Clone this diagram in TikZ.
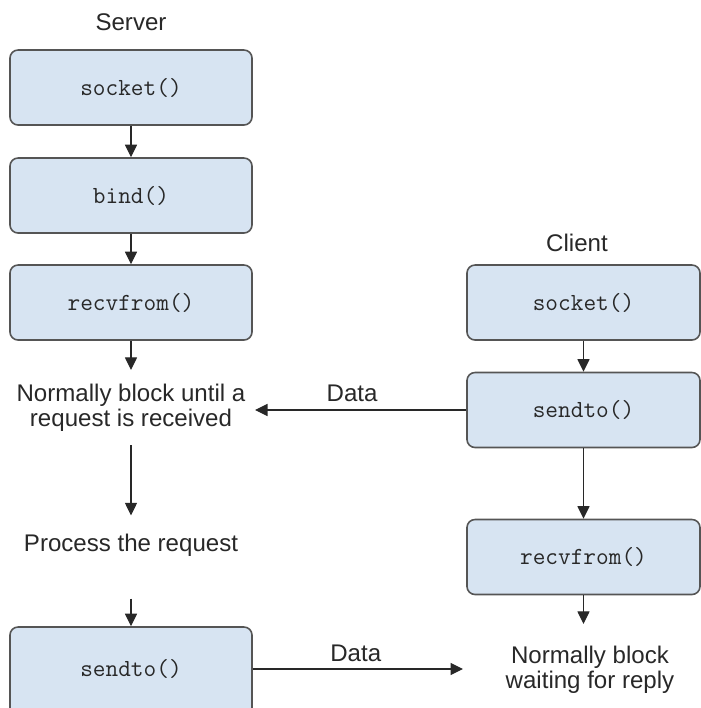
\documentclass[tikz,border=0pt]{standalone}
\usepackage{fontspec}
\setmainfont{Liberation Sans}
\usepackage{xcolor}
\usepackage{tikz}
\usetikzlibrary{arrows.meta, positioning, calc}
\definecolor{sockblue}{RGB}{215,228,242}
\definecolor{sockgray}{RGB}{85,85,85}
\definecolor{socktext}{RGB}{40,40,40}
\tikzset{
  callbox/.style={draw=sockgray, line width=0.9pt, fill=sockblue, rounded corners=0.16cm,
    minimum width=4.84cm, minimum height=1.5cm, text=socktext,
    font=\fontsize{14}{16}\selectfont\ttfamily},
  steptext/.style={align=center, inner sep=0pt, text=socktext,
    font=\fontsize{13.7}{14.2}\selectfont},
  flow/.style={-{Triangle[length=0.25cm,width=0.24cm]}, line width=0.6pt, draw=socktext},
}

\begin{document}
\begin{tikzpicture}
\clip (0,0) rectangle (14.02,-14.16);
% Server side
\node[steptext] (srvlbl) at (2.62,-0.44) {Server};
\node[callbox] (ssock) at (2.62,-1.75) {socket()};
\node[callbox] (sbind) at (2.62,-3.91) {bind()};
\node[callbox] (srecv) at (2.62,-6.05) {recvfrom()};
\node[steptext] (swait) at (2.62,-8.16) {Normally block until a\\request is received};
\node[steptext] (sproc) at (2.62,-10.9) {Process the request};
\node[callbox, minimum height=1.8cm] (ssend) at (2.62,-13.44) {\raisebox{0.16cm}{sendto()}};
\draw[flow] (ssock) -- (sbind);
\draw[flow] (sbind) -- (srecv);
\draw[flow, shorten >=0.28cm] (srecv) -- (swait);
\draw[flow, shorten <=0.26cm, shorten >=0.36cm] (swait) -- (sproc);
\draw[flow, shorten <=0.84cm] (sproc) -- (ssend);
% Client side
\node[steptext] (clilbl) at (11.54,-4.86) {Client};
\node[callbox, minimum width=4.66cm] (csock) at (11.67,-6.05) {socket()};
\node[callbox, minimum width=4.66cm] (csend) at (11.67,-8.2) {sendto()};
\node[callbox, minimum width=4.66cm] (crecv) at (11.67,-11.14) {recvfrom()};
\node[steptext] (cwait) at (11.8,-13.4) {Normally block\\waiting for reply};
\draw[flow] (csock) -- (csend);
\draw[flow] (csend) -- (crecv);
\draw[flow, shorten >=0.44cm] (crecv) -- (crecv |- cwait.north);
% Data between them
\coordinate (sin) at (5.1,-8.2);
\coordinate (cin) at (9.26,-13.38);
\draw[flow] (csend.west) -- (csend.west -| sin) node[steptext, pos=0.54, above=0.15cm] (dup) {Data};
\draw[flow] ([yshift=0.06cm]ssend.east) -- ([yshift=0.06cm]ssend.east -| cin) node[steptext, pos=0.49, above=0.13cm] (ddown) {Data};
\end{tikzpicture}
\end{document}
